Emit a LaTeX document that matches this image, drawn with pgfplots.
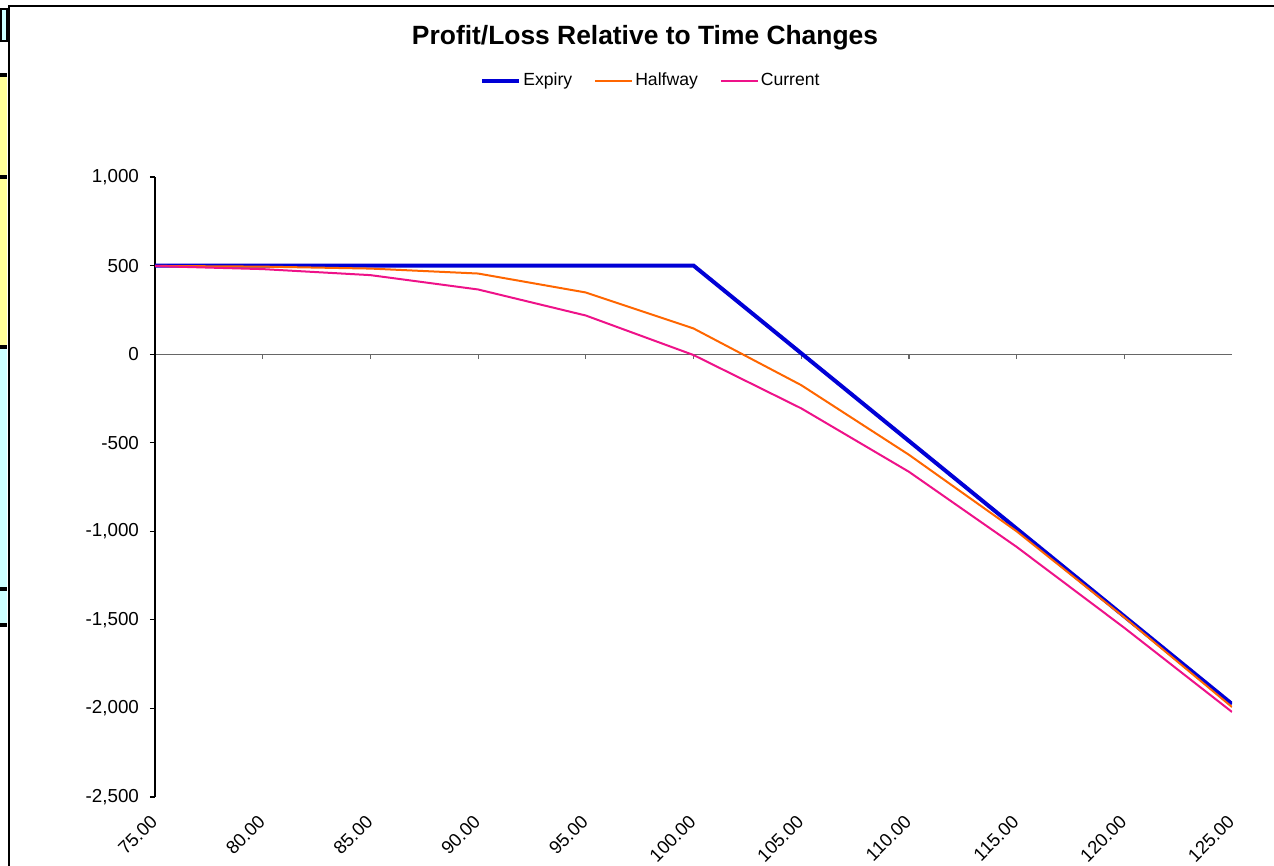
\documentclass[border=0pt]{standalone}
\usepackage{pgfplots}
\pgfplotsset{compat=1.18}
\usepackage{fontspec}
\setmainfont{Liberation Sans}
\definecolor{cExp}{RGB}{0,0,214}
\definecolor{cHalf}{RGB}{255,102,0}
\definecolor{cCur}{RGB}{238,18,137}
\definecolor{cellY}{RGB}{255,255,153}
\definecolor{cellC}{RGB}{204,255,255}
\begin{document}
\begin{tikzpicture}
\useasboundingbox (0,0) rectangle (637pt,433pt);
% spreadsheet remnants on the left
\fill[cellC] (0,412pt) rectangle (3.5pt,429pt);
\draw[black, line width=1pt] (0.5pt,412.5pt) rectangle (3.5pt,428.5pt);
\fill[cellY] (0,259.5pt) rectangle (3.5pt,395.5pt);
\fill[cellC] (0,120.5pt) rectangle (3.5pt,259.5pt);
\foreach \yy in {395.5,344.5,259.5,138.5,120.5}{\fill[black] (0,\yy pt-0.8pt) rectangle (3.5pt,\yy pt+0.8pt);}
% chart area frame
\draw[black, line width=0.6pt] (4.5pt,0) -- (4.5pt,430pt) -- (637pt,430pt);
% title
\node[font=\fontsize{13.2}{15}\selectfont\bfseries] at (322.5pt,414pt) {Profit/Loss Relative to Time Changes};
% zero line axis
\begin{axis}[
  at={(77.5pt,34.5pt)}, anchor=south west,
  scale only axis, width=538.5pt, height=310pt,
  xmin=75, xmax=125, ymin=-2500, ymax=1000,
  axis x line*=middle, hide y axis,
  x axis line style={gray!80!black, line width=0.6pt},
  xtick={75,80,...,125}, xticklabels={},
  xtick style={gray!80!black, line width=0.6pt},
  tick align=outside, major tick length=2.5pt,
]
\end{axis}
\begin{axis}[
  at={(77.5pt,34.5pt)}, anchor=south west,
  scale only axis, width=538.5pt, height=310pt,
  xmin=75, xmax=125, ymin=-2500, ymax=1000,
  axis y line*=left, axis x line*=bottom,
  x axis line style={draw=none},
  y axis line style={black, line width=0.6pt},
  xtick={75,80,...,125},
  xticklabels={75.00,80.00,85.00,90.00,95.00,100.00,105.00,110.00,115.00,120.00,125.00},
  xtick style={draw=none},
  ytick={-2500,-2000,...,1000},
  ytick style={black, line width=0.6pt},
  tick align=outside, major tick length=2.5pt,
  /pgf/number format/assume math mode=true,
  /pgf/number format/1000 sep={,},
  tick label style={font=\fontsize{9.4}{11}\selectfont},
  xticklabel style={rotate=45, anchor=north east, xshift=-2.8pt, yshift=1.25pt, font=\fontsize{9.2}{11}\selectfont},
  yticklabel style={xshift=-2pt},
  legend style={draw=none, fill=none, at={(0.4605,1.155)}, anchor=center,
    legend columns=3, font=\fontsize{8.8}{10}\selectfont,
    /tikz/every even column/.append style={column sep=10pt},
    nodes={inner sep=1pt}},
  legend image code/.code={\draw[#1] (0pt,0pt) -- (18.5pt,0pt);},
]
\addplot[cExp, line width=2pt] coordinates {
(75,500) (80,500) (85,500) (90,500) (95,500) (100,500) (105,5) (110,-490) (115,-985) (120,-1480) (125,-1975)};
\addlegendentry{Expiry}
\addplot[cHalf, line width=1pt] coordinates {
(75,498) (80,494) (85,483) (90,455) (95,348) (100,145) (105,-175) (110,-568) (115,-1000) (120,-1486) (125,-1992)};
\addlegendentry{Halfway}
\addplot[cCur, line width=1pt] coordinates {
(75,497) (80,480) (85,446) (90,365) (95,218) (100,-5) (105,-306) (110,-664) (115,-1088) (120,-1545) (125,-2020)};
\addlegendentry{Current}
\end{axis}
\end{tikzpicture}
\end{document}
